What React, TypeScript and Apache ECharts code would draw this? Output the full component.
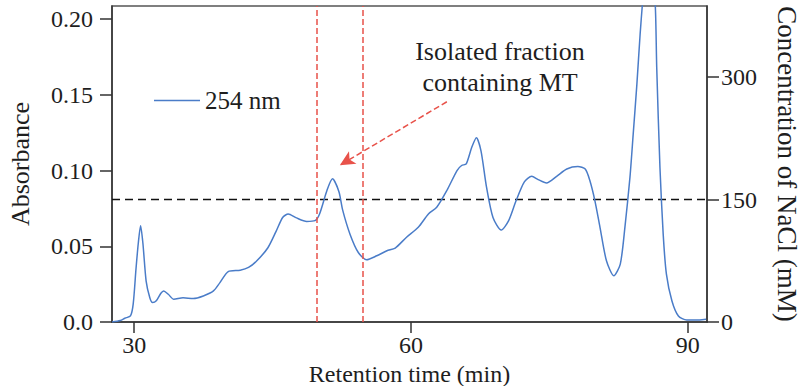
import React, { useEffect, useRef } from "react";
import * as echarts from "echarts";

const retentionTime = [
  27.6, 28.5, 29.0, 29.6, 29.9, 30.2, 30.45, 30.7, 30.95, 31.3, 31.7, 32.0, 32.4, 32.9, 33.2, 33.7,
  34.3, 35.3, 36.4, 37.5, 38.6, 39.3, 40.2, 41.5, 42.4, 43.3, 44.5, 45.4, 46.1, 46.7, 47.6, 48.7,
  49.6, 50.1, 50.9, 51.5, 52.2, 52.6, 53.4, 54.3, 55.2, 56.3, 57.4, 58.3, 59.5, 60.8, 61.9, 62.8,
  63.9, 65.0, 65.5, 66.0, 66.6, 67.1, 67.6, 68.2, 68.9, 69.8, 70.6, 71.4, 72.3, 73.1, 73.8, 74.7,
  75.8, 76.9, 78.1, 78.9, 79.4, 79.95, 80.5, 81.2, 82.0, 82.7, 83.2, 83.75, 84.1, 84.5, 84.85, 85.1,
  85.5, 85.8, 86.1, 86.5, 86.65, 87.0, 87.35, 87.7, 88.3, 89.0, 89.9, 91.3, 92.0,
];

const absorbance254 = [
  0.0, 0.001, 0.0025, 0.004, 0.012, 0.035, 0.052, 0.0636, 0.052, 0.027, 0.016, 0.0128, 0.014, 0.019, 0.0205, 0.0183,
  0.015, 0.016, 0.0155, 0.0172, 0.0205, 0.026, 0.0333, 0.0342, 0.036, 0.0404, 0.049, 0.06, 0.069, 0.0713, 0.0687, 0.0664,
  0.0669, 0.0713, 0.0868, 0.0945, 0.086, 0.074, 0.058, 0.0459, 0.0411, 0.0437, 0.047, 0.0488, 0.0558, 0.0625, 0.0713, 0.0757,
  0.0868, 0.1, 0.1033, 0.1044, 0.1154, 0.1217, 0.113, 0.089, 0.069, 0.0607, 0.0669, 0.08, 0.0925, 0.0962, 0.094, 0.0918,
  0.0962, 0.101, 0.1026, 0.101, 0.0934, 0.08, 0.0625, 0.0404, 0.0305, 0.0382, 0.0625, 0.0956, 0.124, 0.157, 0.19, 0.21,
  0.24, 0.25, 0.24, 0.208, 0.168, 0.102, 0.058, 0.0316, 0.0139, 0.004, 0.0013, 0.0013, 0.0018,
];

const xTicks = [30, 60, 90];
const absTicks = [0, 0.05, 0.1, 0.15, 0.2];
const naclTicks = [0, 150, 300];
const naclLevel = [150, 150];
const naclTimes = [27.6, 92.1];
const fractionBounds = [49.8, 54.8];
const arrowFrom = [63.9, 0.1454];
const arrowTo = [52.3, 0.1035];

const FONT = "Liberation Serif";
const INK = "#1e1e1e";

export default function App() {
  const ref = useRef<HTMLDivElement>(null);
  useEffect(() => {
    document.body.style.margin = "0";
    document.body.style.overflow = "hidden";
    document.documentElement.style.overflow = "hidden";
    if (!ref.current) return;
    const chart = echarts.init(ref.current, undefined, { renderer: "svg" });
    const lineData = retentionTime.map((t, i) => [t, absorbance254[i]]);
    const naclData = naclTimes.map((t, i) => [t, naclLevel[i]]);
    chart.setOption({
      animation: false,
      backgroundColor: "#fff",
      textStyle: { fontFamily: FONT, color: INK },
      grid: {
        left: 112,
        right: 97,
        top: 6,
        bottom: 64,
        outerBoundsMode: "none",
        containLabel: false,
        show: true,
        borderColor: "#555",
        borderWidth: 1.5,
        backgroundColor: "transparent",
      },
      legend: {
        data: ["254 nm"],
        left: 154,
        top: 88,
        padding: 0,
        icon: "rect",
        itemWidth: 46,
        itemHeight: 1.5,
        textStyle: { fontFamily: FONT, fontSize: 25, color: INK },
      },
      xAxis: {
        type: "value",
        min: 27.6,
        max: 92.1,
        name: "Retention time (min)",
        nameLocation: "middle",
        nameGap: 32,
        nameTextStyle: { fontFamily: FONT, fontSize: 24, color: INK },
        axisLine: { lineStyle: { color: "#333", width: 1.5 } },
        axisTick: { customValues: xTicks, length: 11, lineStyle: { color: "#333", width: 1.5 } },
        axisLabel: { customValues: xTicks, margin: 11, fontSize: 24, color: INK, fontFamily: FONT },
        splitLine: { show: false },
      },
      yAxis: [
        {
          type: "value",
          min: 0,
          max: 0.2086,
          position: "left",
          name: "Absorbance",
          nameLocation: "middle",
          nameRotate: 90,
          nameGap: 79,
          nameTextStyle: { fontFamily: FONT, fontSize: 26, color: INK },
          axisLine: { show: true, lineStyle: { color: "#333", width: 1.5 } },
          axisTick: { show: true, customValues: absTicks, length: 12, lineStyle: { color: "#333", width: 1.5 } },
          axisLabel: {
            customValues: absTicks,
            margin: 19,
            fontSize: 24,
            color: INK,
            fontFamily: FONT,
            formatter: (v: number) => (v === 0 ? "0.0" : v.toFixed(2)),
          },
          splitLine: { show: false },
        },
        {
          type: "value",
          min: 0,
          max: 387,
          position: "right",
          name: "Concentration of NaCl (mM)",
          nameLocation: "middle",
          nameRotate: -90,
          nameGap: 66,
          nameTextStyle: { fontFamily: FONT, fontSize: 27, color: INK },
          axisLine: { show: true, lineStyle: { color: "#333", width: 1.5 } },
          axisTick: { show: true, customValues: naclTicks, length: 12, lineStyle: { color: "#333", width: 1.5 } },
          axisLabel: { customValues: naclTicks, margin: 14, fontSize: 24, color: INK, fontFamily: FONT },
          splitLine: { show: false },
        },
      ],
      series: [
        {
          name: "NaCl",
          type: "line",
          yAxisIndex: 1,
          data: naclData,
          symbol: "none",
          silent: true,
          lineStyle: { color: "#111", width: 1.3, type: [8, 5] },
          z: 1,
        },
        {
          name: "254 nm",
          type: "line",
          yAxisIndex: 0,
          data: lineData,
          symbol: "none",
          smooth: 0.25,
          itemStyle: { color: "#4a7cc8" },
          lineStyle: { color: "#4a7cc8", width: 1.5 },
          z: 3,
          markLine: {
            silent: true,
            symbol: ["none", "none"],
            label: { show: false },
            lineStyle: { color: "#e8524a", width: 1.5, type: [6, 3] },
            data: [
              { xAxis: fractionBounds[0] },
              { xAxis: fractionBounds[1] },
              [
                { coord: arrowFrom, symbol: "none" },
                { coord: arrowTo, symbol: "arrow", symbolSize: [11, 15] },
              ],
            ],
          },
        },
      ],
      graphic: [
        {
          type: "text",
          x: 500,
          y: 36,
          style: {
            text: "Isolated fraction\ncontaining MT",
            textAlign: "center",
            textVerticalAlign: "top",
            fontFamily: FONT,
            fontSize: 26,
            lineHeight: 31,
            fill: INK,
          },
        },
      ],
    });
    return () => chart.dispose();
  }, []);
  return <div ref={ref} style={{ width: 804, height: 386, background: "#fff" }} />;
}
